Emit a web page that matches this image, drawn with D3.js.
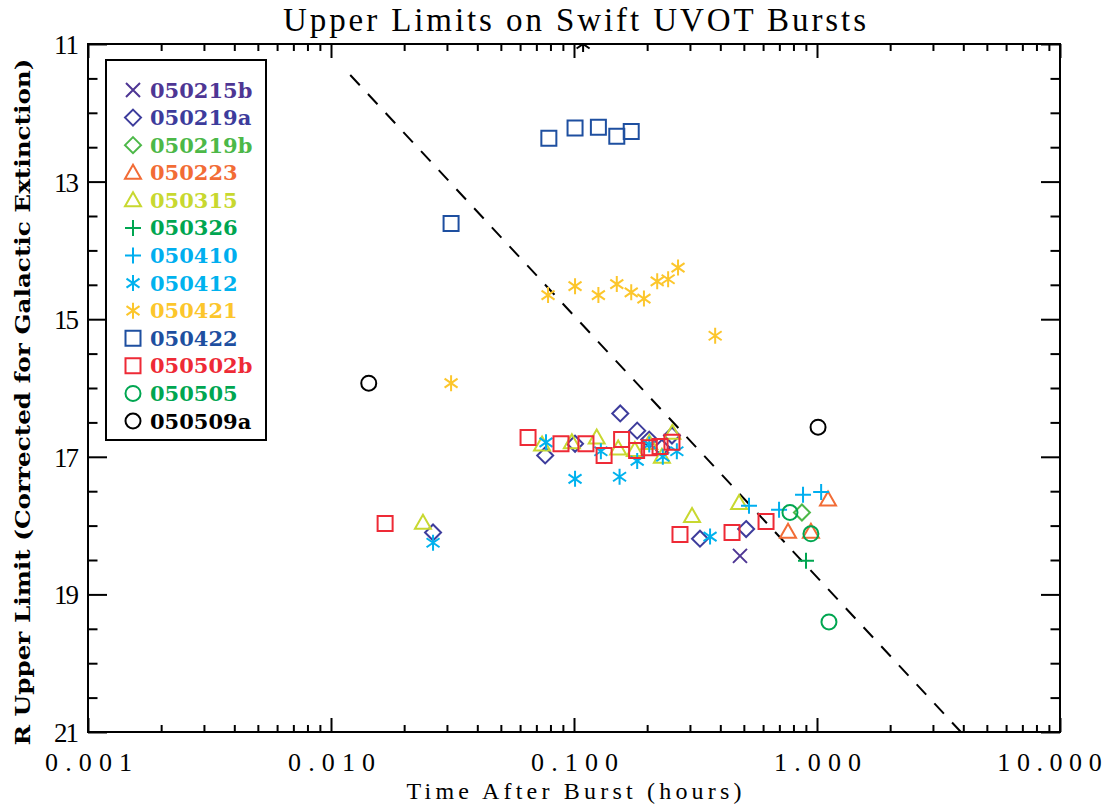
<!DOCTYPE html>
<html>
<head>
<meta charset="utf-8">
<script src="https://cdn.jsdelivr.net/npm/d3@7"></script>
<style>
  html, body { margin: 0; padding: 0; background: #fff; }
  svg { display: block; }
</style>
</head>
<body>
<svg id="chart" width="1103" height="804"></svg>
<script>
// ---------------- DATA ----------------
const bursts = ["050215b","050219a","050219b","050223","050315","050326","050410","050412","050421","050422","050502b","050505","050509a"];
const symbols = ["x","diamond","diamond","triangle","triangle","plus","plus","asterisk","asterisk","square","square","circle","circle"];
const colors = ["#4e3694","#3d3c9c","#4cb848","#f26c36","#c8d830","#00a651","#00aeef","#00b2ee","#fcc62c","#1e4fa0","#ee2a36","#00a651","#000000"];

const t050215b = [0.482];
const r050215b = [18.44];
const t050219a = [0.0263, 0.0761, 0.101, 0.155, 0.182, 0.204, 0.230, 0.253, 0.330, 0.511];
const r050219a = [18.10, 16.98, 16.81, 16.37, 16.62, 16.75, 16.87, 16.69, 18.19, 18.05];
const t050219b = [0.867];
const r050219b = [17.81];
const t050223 = [0.760, 0.944, 1.11];
const r050223 = [18.09, 18.09, 17.62];
const t050315 = [0.0239, 0.0739, 0.098, 0.124, 0.152, 0.178, 0.204, 0.230, 0.254, 0.306, 0.478];
const r050315 = [17.96, 16.82, 16.79, 16.72, 16.88, 16.90, 16.80, 17.00, 16.65, 17.86, 17.67];
const t050326 = [0.901];
const r050326 = [18.51];
const t050410 = [0.525, 0.698, 0.876, 1.04];
const r050410 = [17.71, 17.77, 17.55, 17.51];
const t050412 = [0.0263, 0.0767, 0.101, 0.129, 0.154, 0.182, 0.204, 0.232, 0.265, 0.363];
const r050412 = [18.25, 16.79, 17.32, 16.92, 17.29, 17.06, 16.82, 17.00, 16.92, 18.16];
const t050421 = [0.0312, 0.0782, 0.101, 0.126, 0.150, 0.172, 0.194, 0.220, 0.244, 0.268, 0.381];
const r050421 = [15.93, 14.65, 14.52, 14.65, 14.49, 14.61, 14.70, 14.45, 14.42, 14.25, 15.24];
const t050422 = [0.0312, 0.0788, 0.101, 0.126, 0.150, 0.172];
const r050422 = [13.61, 12.37, 12.22, 12.21, 12.34, 12.27];
const t050502b = [0.0167, 0.0647, 0.0884, 0.112, 0.133, 0.157, 0.181, 0.204, 0.226, 0.253, 0.273, 0.447, 0.617];
const r050502b = [17.97, 16.72, 16.81, 16.81, 16.98, 16.75, 16.91, 16.87, 16.85, 16.79, 18.13, 18.10, 17.94];
const t050505 = [0.774, 0.944, 1.12];
const r050505 = [17.81, 18.12, 19.40];
const t050509a = [0.0143, 1.01];
const r050509a = [15.93, 16.57];
// stray black asterisk clipped at the top axis
const tStray = [0.109];
const rStray = [11.0];
// dashed reference line
const tLine = [0.012, 3.91];
const rLine = [11.45, 21.0];

const times = [t050215b,t050219a,t050219b,t050223,t050315,t050326,t050410,t050412,t050421,t050422,t050502b,t050505,t050509a];
const mags  = [r050215b,r050219a,r050219b,r050223,r050315,r050326,r050410,r050412,r050421,r050422,r050502b,r050505,r050509a];

// axis ticks
const xMajor = [0.001, 0.01, 0.1, 1, 10];
const xMinor = [];
[0.001, 0.01, 0.1, 1].forEach(d => { for (let k = 2; k <= 9; k++) xMinor.push(d * k); });
const yMajor = [11, 13, 15, 17, 19, 21];
const yMinor = d3.range(11.5, 21, 0.5).filter(v => yMajor.indexOf(v) < 0);

// ---------------- CHART ----------------
const svg = d3.select("#chart");
const L = 88, R = 1060, T = 44, B = 732;
const x = d3.scaleLog().domain([0.001, 10]).range([L, R]);
const y = d3.scaleLinear().domain([11, 21]).range([T, B]);

svg.append("defs").append("clipPath").attr("id", "plotclip")
  .append("rect").attr("x", L).attr("y", T).attr("width", R - L).attr("height", B - T);

function symPath(type) {
  switch (type) {
    case "x": { const h = 7; return `M${-h},${-h}L${h},${h}M${-h},${h}L${h},${-h}`; }
    case "diamond": { const h = 8; return `M0,${-h}L${h},0L0,${h}L${-h},0Z`; }
    case "triangle": return "M0,-8L8,6L-8,6Z";
    case "plus": { const h = 8; return `M${-h},0H${h}M0,${-h}V${h}`; }
    case "asterisk": { const h = 8, a = 6.5, b = 4.5; return `M0,${-h}V${h}M${-a},${-b}L${a},${b}M${-a},${b}L${a},${-b}`; }
    case "square": { const h = 7.5; return `M${-h},${-h}H${h}V${h}H${-h}Z`; }
    case "circle": { const r = 7.5; return `M${r},0A${r},${r} 0 1,1 ${-r},0A${r},${r} 0 1,1 ${r},0Z`; }
  }
}

// dashed line
const plot = svg.append("g").attr("clip-path", "url(#plotclip)");
plot.append("path")
  .datum(d3.zip(tLine, rLine))
  .attr("d", d3.line().x(d => x(d[0])).y(d => y(d[1])))
  .attr("fill", "none").attr("stroke", "#000").attr("stroke-width", 2)
  .attr("stroke-dasharray", "14,12");

// points
bursts.forEach((b, i) => {
  plot.append("g").selectAll("path")
    .data(d3.zip(times[i], mags[i]))
    .join("path")
    .attr("transform", d => `translate(${x(d[0])},${y(d[1])})`)
    .attr("d", symPath(symbols[i]))
    .attr("fill", "none").attr("stroke", colors[i]).attr("stroke-width", 2);
});
plot.append("g").selectAll("path")
  .data(d3.zip(tStray, rStray))
  .join("path")
  .attr("transform", d => `translate(${x(d[0])},${y(d[1])})`)
  .attr("d", symPath("asterisk"))
  .attr("fill", "none").attr("stroke", "#000").attr("stroke-width", 2);

// axes
function styleAxis(g) {
  g.select(".domain").remove();
  g.selectAll("line").attr("stroke", "#000").attr("stroke-width", 2);
}
const tickFont = "'Liberation Serif', serif";
const fmtX = d3.format(".3f");

const gxb = svg.append("g").attr("transform", `translate(0,${B})`)
  .call(d3.axisBottom(x).tickValues(xMajor).tickSize(-14).tickFormat(fmtX));
styleAxis(gxb);
gxb.selectAll("text").attr("y", 39).attr("dy", 0).attr("fill", "#000")
  .attr("x", d => d === 10 ? -11 : 0)
  .style("font-family", tickFont).style("font-size", "26px")
  .attr("textLength", d => fmtX(d).length * 17.4)
  .attr("lengthAdjust", "spacing");
svg.append("g").attr("transform", `translate(0,${B})`)
  .call(d3.axisBottom(x).tickValues(xMinor).tickSize(-7).tickFormat(""))
  .call(styleAxis);
svg.append("g").attr("transform", `translate(0,${T})`)
  .call(d3.axisTop(x).tickValues(xMajor).tickSize(-14).tickFormat(""))
  .call(styleAxis);
svg.append("g").attr("transform", `translate(0,${T})`)
  .call(d3.axisTop(x).tickValues(xMinor).tickSize(-7).tickFormat(""))
  .call(styleAxis);

const gyl = svg.append("g").attr("transform", `translate(${L},0)`)
  .call(d3.axisLeft(y).tickValues(yMajor).tickSize(-19).tickFormat(d3.format("d")));
styleAxis(gyl);
gyl.selectAll("text").attr("x", -9).attr("dy", "0.35em").attr("fill", "#000")
  .style("font-family", tickFont).style("font-size", "27px")
  .attr("textLength", 25).attr("lengthAdjust", "spacing");
svg.append("g").attr("transform", `translate(${L},0)`)
  .call(d3.axisLeft(y).tickValues(yMinor).tickSize(-9.5).tickFormat(""))
  .call(styleAxis);
svg.append("g").attr("transform", `translate(${R},0)`)
  .call(d3.axisRight(y).tickValues(yMajor).tickSize(-19).tickFormat(""))
  .call(styleAxis);
svg.append("g").attr("transform", `translate(${R},0)`)
  .call(d3.axisRight(y).tickValues(yMinor).tickSize(-9.5).tickFormat(""))
  .call(styleAxis);

// frame
svg.append("rect").attr("x", L).attr("y", T).attr("width", R - L).attr("height", B - T)
  .attr("fill", "none").attr("stroke", "#000").attr("stroke-width", 2);

// titles
svg.append("text").attr("x", (283 + 866) / 2).attr("y", 31).attr("text-anchor", "middle")
  .style("font-family", tickFont).style("font-size", "33px")
  .attr("textLength", 583).attr("lengthAdjust", "spacing")
  .text("Upper Limits on Swift UVOT Bursts");
svg.append("text").attr("x", 574).attr("y", 799).attr("text-anchor", "middle")
  .style("font-family", tickFont).style("font-size", "24px")
  .attr("textLength", 335).attr("lengthAdjust", "spacing")
  .text("Time After Burst (hours)");
svg.append("text").attr("transform", "translate(30,402) rotate(-90)").attr("text-anchor", "middle")
  .style("font-family", "'DejaVu Serif', serif").style("font-size", "21px").style("font-weight", "bold")
  .attr("textLength", 687).attr("lengthAdjust", "spacingAndGlyphs")
  .text("R Upper Limit (Corrected for Galactic Extinction)");

// legend
const lg = svg.append("g");
lg.append("rect").attr("x", 106).attr("y", 60).attr("width", 160).attr("height", 380)
  .attr("fill", "#fff").attr("stroke", "#000").attr("stroke-width", 2);
const ly = d3.scalePoint().domain(bursts).range([90, 421]);
bursts.forEach((b, i) => {
  lg.append("path").attr("transform", `translate(133,${ly(b)})`)
    .attr("d", symPath(symbols[i])).attr("fill", "none").attr("stroke", colors[i]).attr("stroke-width", 2);
  lg.append("text").attr("x", 150).attr("y", ly(b)).attr("dy", "0.36em")
    .style("font-family", "'DejaVu Serif', serif").style("font-size", "21px").style("font-weight", "bold")
    .attr("fill", colors[i]).text(b);
});
</script>
</body>
</html>
